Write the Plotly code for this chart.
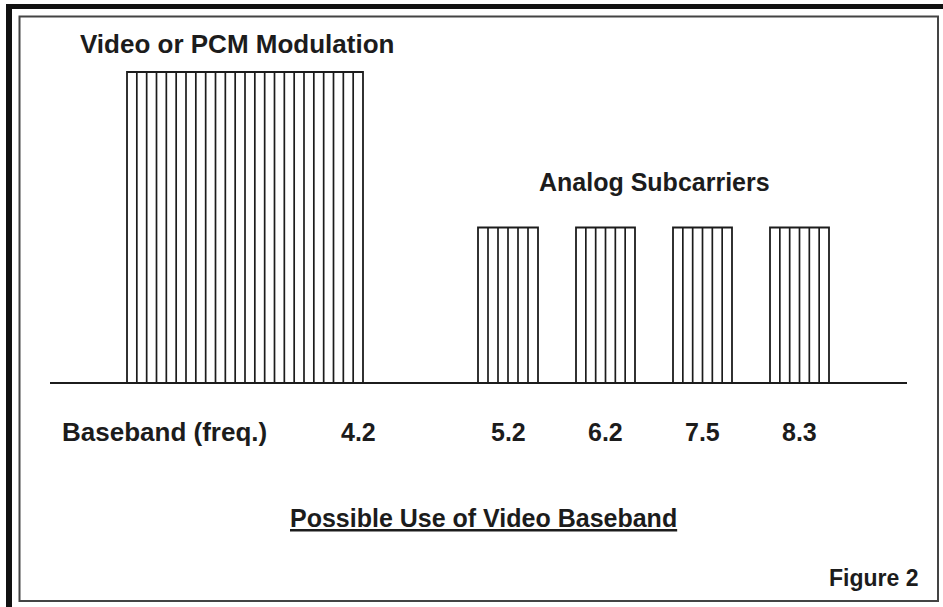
import numpy as np
import plotly.graph_objects as go

# ---- data ----
block_labels = ["4.2", "5.2", "6.2", "7.5", "8.3"]          # baseband frequency marks
block_left = [127, 478, 576, 673, 770]                       # schematic x units
block_right = [363, 538, 635, 732, 829]
block_height = [1.0, 0.5, 0.5, 0.5, 0.5]                     # relative level
block_stripes = [24, 6, 6, 6, 6]
group_titles = ["Video or PCM Modulation", "Analog Subcarriers"]
axis_caption = "Baseband (freq.)"
chart_title = "Possible Use of Video Baseband"
figure_tag = "Figure 2"

W, H = 943, 607
BASE_PX = 383
UNIT_PX = 311
FONT = "Liberation Sans, Arial, Helvetica, sans-serif"
INK = "#1c1c1c"

fig = go.Figure()

# block outlines
centers = [(l + r) / 2 for l, r in zip(block_left, block_right)]
widths = [r - l for l, r in zip(block_left, block_right)]
fig.add_trace(go.Bar(
    x=centers, y=block_height, width=widths, base=0,
    marker=dict(color="rgba(255,255,255,0)", line=dict(color=INK, width=1.8)),
    hoverinfo="skip", showlegend=False,
))

# vertical hatch lines inside each block
hx, hy = [], []
for l, r, h, n in zip(block_left, block_right, block_height, block_stripes):
    for xv in np.linspace(l, r, n + 1)[1:-1]:
        hx += [xv, xv, None]
        hy += [0, h, None]
fig.add_trace(go.Scatter(x=hx, y=hy, mode="lines",
                         line=dict(color=INK, width=1.7),
                         hoverinfo="skip", showlegend=False))

# baseline
fig.add_shape(type="line", xref="x", yref="y", x0=50, x1=907, y0=0, y1=0,
              line=dict(color=INK, width=2))

def px_x(p):
    return p / W

def px_y(p):
    return 1 - p / H

# frames
fig.add_shape(type="line", xref="paper", yref="paper",
              x0=px_x(6), x1=px_x(943), y0=px_y(6.5), y1=px_y(6.5),
              line=dict(color="#111", width=5))
fig.add_shape(type="line", xref="paper", yref="paper",
              x0=px_x(9), x1=px_x(9), y0=px_y(4), y1=px_y(607),
              line=dict(color="#111", width=6))
fig.add_shape(type="rect", xref="paper", yref="paper",
              x0=px_x(19.5), x1=px_x(938), y0=px_y(16.5), y1=px_y(601),
              line=dict(color="#444", width=2))

def txt(s, x, y, size, xanchor="center", xref="x", yref="y", **kw):
    fig.add_annotation(text=s, x=x, y=y, xref=xref, yref=yref,
                       xanchor=xanchor, yanchor="middle", showarrow=False,
                       font=dict(family=FONT, size=size, color=INK, weight="bold"), **kw)

# group titles
txt(group_titles[0], 78, px_y(44), 26, xanchor="left", yref="paper")
txt(group_titles[1], (block_left[1] + block_right[-1]) / 2 + 1, px_y(182), 25, yref="paper")

# frequency labels
lab_y = (BASE_PX - 432) / UNIT_PX
txt(axis_caption, 60, lab_y, 26, xanchor="left")
for i, lab in enumerate(block_labels):
    if i == 0:
        txt(lab, block_right[i] - 5, lab_y, 25)
    else:
        txt(lab, centers[i], lab_y, 25)

# chart caption & tag
txt("<u>" + chart_title + "</u>", 483, px_y(518), 25, yref="paper")
txt(figure_tag, 920, px_y(578), 23, xanchor="right", yref="paper")

fig.update_layout(
    width=W, height=H,
    margin=dict(l=0, r=0, t=0, b=0),
    paper_bgcolor="white", plot_bgcolor="white",
    xaxis=dict(range=[0, W], visible=False, fixedrange=True),
    yaxis=dict(range=[(BASE_PX - H) / UNIT_PX, BASE_PX / UNIT_PX],
               visible=False, fixedrange=True),
    showlegend=False,
)

fig.write_html("out.html", config={"displayModeBar": False},
               post_script="document.body.style.margin='0';document.body.style.overflow='hidden';")
